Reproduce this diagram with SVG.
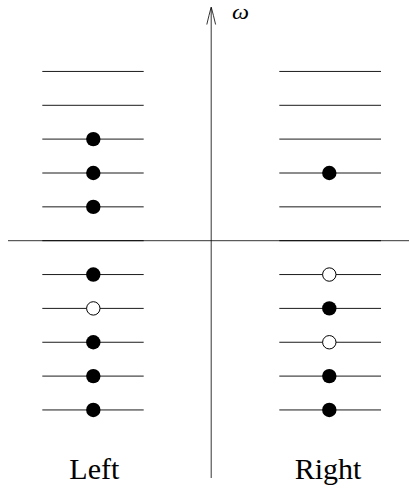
<svg xmlns="http://www.w3.org/2000/svg" width="409" height="488" viewBox="0 0 409 488">
  <style>
    .lvl { stroke: #000; stroke-width: 0.9; fill: none; }
    .axis { stroke: #000; stroke-width: 0.8; fill: none; }
    .full { fill: #000; stroke: none; }
    .hole { fill: #fff; stroke: #000; stroke-width: 1; }
    .lbl { font-family: "Liberation Serif", "DejaVu Serif", serif; font-size: 30px; fill: #000; }
    .sym { font-family: "Liberation Serif", "DejaVu Serif", serif; font-style: italic; font-size: 20px; fill: #000; }
  </style>
  <rect width="409" height="488" fill="#fff"/>

  <g id="connectors">
    <line class="axis" x1="8" y1="240.7" x2="409" y2="240.7"/>
    <line class="axis" x1="211.2" y1="478" x2="211.2" y2="8"/>
    <path class="axis" d="M206.8,24.5 Q209,15 211.2,7 Q213.4,15 215.6,24.5"/>
  </g>

  <g id="omega-label"><text class="sym" x="232" y="18.5" textLength="17" lengthAdjust="spacingAndGlyphs">ω</text></g>

  <g id="left">
    <g id="L1"><line class="lvl" x1="42.3" y1="71.45" x2="143.7" y2="71.45"/></g>
    <g id="L2"><line class="lvl" x1="42.3" y1="105.3" x2="143.7" y2="105.3"/></g>
    <g id="L3"><line class="lvl" x1="42.3" y1="139.1" x2="143.7" y2="139.1"/><circle class="full" cx="93.3" cy="139.1" r="7.2"/></g>
    <g id="L4"><line class="lvl" x1="42.3" y1="173" x2="143.7" y2="173"/><circle class="full" cx="93.3" cy="173" r="7.2"/></g>
    <g id="L5"><line class="lvl" x1="42.3" y1="206.85" x2="143.7" y2="206.85"/><circle class="full" cx="93.3" cy="206.85" r="7.2"/></g>
    <g id="L6"><line class="lvl" x1="42.3" y1="240.7" x2="143.7" y2="240.7"/></g>
    <g id="L7"><line class="lvl" x1="42.3" y1="274.55" x2="143.7" y2="274.55"/><circle class="full" cx="93.3" cy="274.55" r="7.2"/></g>
    <g id="L8"><line class="lvl" x1="42.3" y1="308.4" x2="143.7" y2="308.4"/><circle class="hole" cx="93.3" cy="308.4" r="6.7"/></g>
    <g id="L9"><line class="lvl" x1="42.3" y1="342.25" x2="143.7" y2="342.25"/><circle class="full" cx="93.3" cy="342.25" r="7.2"/></g>
    <g id="L10"><line class="lvl" x1="42.3" y1="376.1" x2="143.7" y2="376.1"/><circle class="full" cx="93.3" cy="376.1" r="7.2"/></g>
    <g id="L11"><line class="lvl" x1="42.3" y1="409.95" x2="143.7" y2="409.95"/><circle class="full" cx="93.3" cy="409.95" r="7.2"/></g>
    <text class="lbl" x="94.3" y="478.5" text-anchor="middle">Left</text>
  </g>

  <g id="right">
    <g id="R1"><line class="lvl" x1="279.3" y1="71.45" x2="381" y2="71.45"/></g>
    <g id="R2"><line class="lvl" x1="279.3" y1="105.3" x2="381" y2="105.3"/></g>
    <g id="R3"><line class="lvl" x1="279.3" y1="139.1" x2="381" y2="139.1"/></g>
    <g id="R4"><line class="lvl" x1="279.3" y1="173" x2="381" y2="173"/><circle class="full" cx="329.3" cy="173" r="7.2"/></g>
    <g id="R5"><line class="lvl" x1="279.3" y1="206.85" x2="381" y2="206.85"/></g>
    <g id="R6"><line class="lvl" x1="279.3" y1="240.7" x2="381" y2="240.7"/></g>
    <g id="R7"><line class="lvl" x1="279.3" y1="274.55" x2="381" y2="274.55"/><circle class="hole" cx="329.3" cy="274.55" r="6.7"/></g>
    <g id="R8"><line class="lvl" x1="279.3" y1="308.4" x2="381" y2="308.4"/><circle class="full" cx="329.3" cy="308.4" r="7.2"/></g>
    <g id="R9"><line class="lvl" x1="279.3" y1="342.25" x2="381" y2="342.25"/><circle class="hole" cx="329.3" cy="342.25" r="6.7"/></g>
    <g id="R10"><line class="lvl" x1="279.3" y1="376.1" x2="381" y2="376.1"/><circle class="full" cx="329.3" cy="376.1" r="7.2"/></g>
    <g id="R11"><line class="lvl" x1="279.3" y1="409.95" x2="381" y2="409.95"/><circle class="full" cx="329.3" cy="409.95" r="7.2"/></g>
    <text class="lbl" x="328" y="478.5" text-anchor="middle">Right</text>
  </g>
</svg>
